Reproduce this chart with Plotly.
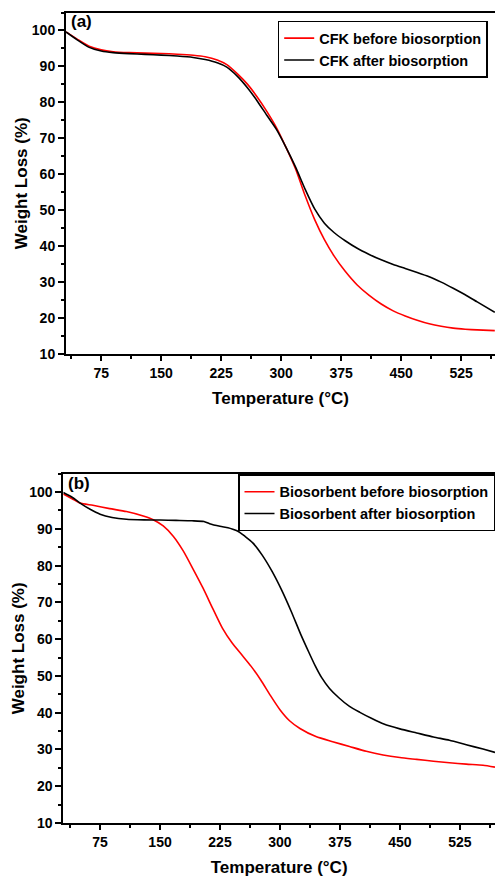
import plotly.graph_objects as go

# ---- (a) CFK thermogravimetric curves (shared temperature grid) ----
cfk_T = [31, 45, 60, 75, 90, 110, 130, 150, 170, 190, 205, 220, 232, 245, 258, 270, 282, 294,
         306, 318, 330, 342, 354, 366, 380, 395, 410, 425, 440, 455, 470, 485, 500, 515, 530,
         545, 567]
cfk_before_W = [99.6, 97.6, 95.6, 94.6, 94.1, 93.85, 93.7, 93.6, 93.4, 93.1, 92.7, 91.8, 90.5,
                88.0, 85.0, 81.5, 77.5, 73.0, 67.5, 61.5, 54.0, 47.3, 41.8, 37.3, 33.0, 29.2,
                26.3, 23.9, 22.0, 20.6, 19.4, 18.4, 17.7, 17.2, 16.9, 16.7, 16.5]
cfk_after_W = [99.6, 97.4, 95.3, 94.3, 93.85, 93.55, 93.35, 93.15, 92.9, 92.5, 91.9, 91.0, 89.8,
               87.3, 84.0, 80.4, 76.4, 72.5, 67.5, 62.0, 55.8, 50.3, 46.4, 43.8, 41.5, 39.4,
               37.7, 36.2, 34.9, 33.8, 32.7, 31.5, 30.0, 28.3, 26.5, 24.5, 21.6]

# ---- (b) Biosorbent thermogravimetric curves ----
bio_before_T = [29, 40, 50, 66, 87, 108, 129, 141.5, 154, 166.5, 179, 191.5, 204, 216, 228, 240,
                252, 264, 276, 288, 300, 312, 325, 345, 366, 387, 408, 429, 450, 471, 492, 512,
                533, 554, 569]
bio_before_W = [99.5, 98.2, 97.0, 96.4, 95.5, 94.7, 93.5, 92.5, 90.8, 88.0, 84.0, 79.0, 73.8,
                68.3, 63.0, 59.0, 55.8, 52.6, 48.9, 44.7, 40.8, 37.8, 35.7, 33.5, 32.1, 30.8,
                29.5, 28.5, 27.8, 27.3, 26.8, 26.4, 26.0, 25.7, 25.2]

bio_after_T = [29, 40, 50, 62, 75, 90, 108, 130, 150, 170, 190, 205, 212, 225, 235, 241, 248,
               256, 266, 278, 290, 302, 314, 326, 336, 344, 352, 362, 374, 387, 400, 415, 430,
               450, 471, 492, 512, 533, 554, 569]
bio_after_W = [99.9, 98.6, 97.0, 95.4, 94.0, 93.1, 92.6, 92.45, 92.4, 92.3, 92.2, 92.0, 91.4,
               90.7, 90.3, 89.9, 89.3, 88.0, 86.2, 82.8, 78.5, 73.4, 67.6, 61.3, 56.5, 52.8,
               49.6, 46.6, 44.0, 41.7, 40.1, 38.4, 36.9, 35.6, 34.5, 33.4, 32.5, 31.3, 30.1,
               29.2]

x_ticks = [75, 150, 225, 300, 375, 450, 525]
y_ticks = [10, 20, 30, 40, 50, 60, 70, 80, 90, 100]

W, H = 495, 877
FONT = "Arial, Liberation Sans, sans-serif"
RED = "#ff0000"
BLACK = "#000000"


def px_x(p):
    return p / W


def px_y(p):
    return 1 - p / H


fig = go.Figure()

line_kw = dict(mode="lines", line_shape="spline")
fig.add_trace(go.Scatter(x=cfk_T, y=cfk_before_W, name="CFK before biosorption",
                         line=dict(color=RED, width=1.6, smoothing=0.6), xaxis="x", yaxis="y",
                         legend="legend", **line_kw))
fig.add_trace(go.Scatter(x=cfk_T, y=cfk_after_W, name="CFK after biosorption",
                         line=dict(color=BLACK, width=1.6, smoothing=0.6), xaxis="x", yaxis="y",
                         legend="legend", **line_kw))
fig.add_trace(go.Scatter(x=bio_before_T, y=bio_before_W, name="Biosorbent before biosorption",
                         line=dict(color=RED, width=1.6, smoothing=0.6), xaxis="x2", yaxis="y2",
                         legend="legend2", **line_kw))
fig.add_trace(go.Scatter(x=bio_after_T, y=bio_after_W, name="Biosorbent after biosorption",
                         line=dict(color=BLACK, width=1.6, smoothing=0.6), xaxis="x2", yaxis="y2",
                         legend="legend2", **line_kw))

tick_font = dict(family=FONT, size=14, color="black", weight="bold")
title_font = dict(family=FONT, size=17, color="black", weight="bold")


def xaxis(domain, rng, anchor):
    return dict(domain=domain, range=rng, anchor=anchor, tickvals=x_ticks,
                ticks="outside", ticklen=5, tickwidth=1.5, tickcolor="black",
                minor=dict(dtick=37.5, tick0=0, ticks="outside", ticklen=3, tickwidth=1.5,
                           tickcolor="black"),
                showline=True, linecolor="black", linewidth=2, mirror=True,
                showgrid=False, zeroline=False, tickfont=tick_font,
                title=dict(text="Temperature (°C)", font=title_font, standoff=12),
                automargin=False)


def yaxis(domain, anchor):
    return dict(domain=domain, range=[10, 105], anchor=anchor, tickvals=y_ticks,
                ticks="outside", ticklen=6, tickwidth=1.5, tickcolor="black",
                minor=dict(dtick=5, tick0=0, ticks="outside", ticklen=3, tickwidth=1.5,
                           tickcolor="black"),
                showline=True, linecolor="black", linewidth=2, mirror=False,
                showgrid=False, zeroline=False, tickfont=tick_font,
                title=dict(text="Weight Loss (%)", font=title_font, standoff=0),
                automargin=False)


legend_font = dict(family=FONT, size=14.5, color="black", weight="bold")

fig.update_layout(
    width=W, height=H,
    margin=dict(l=0, r=0, t=0, b=0),
    paper_bgcolor="white", plot_bgcolor="white",
    xaxis=xaxis([px_x(66), 1], [31, 567.25], "y"),
    yaxis=yaxis([px_y(354), px_y(12.5)], "x"),
    xaxis2=xaxis([px_x(63.3), 1], [29, 569], "y2"),
    yaxis2=yaxis([px_y(823), px_y(473.7)], "x2"),
    legend=dict(x=px_x(277.7), y=px_y(20.7), xanchor="left", yanchor="top",
                bordercolor="black", borderwidth=1.5, bgcolor="white", font=legend_font,
                tracegroupgap=0, itemwidth=30),
    legend2=dict(x=px_x(238), y=px_y(474.3), xanchor="left", yanchor="top",
                 bordercolor="black", borderwidth=1.5, bgcolor="white", font=legend_font,
                 tracegroupgap=0, itemwidth=30),
    annotations=[
        dict(text="(a)", x=px_x(69), y=px_y(21), xref="paper", yref="paper",
             xanchor="left", yanchor="middle", showarrow=False,
             font=dict(family=FONT, size=17, color="black", weight="bold")),
        dict(text="(b)", x=px_x(66), y=px_y(484), xref="paper", yref="paper",
             xanchor="left", yanchor="middle", showarrow=False,
             font=dict(family=FONT, size=17, color="black", weight="bold")),
    ],
    showlegend=True,
)

fig.write_html("out.html")
